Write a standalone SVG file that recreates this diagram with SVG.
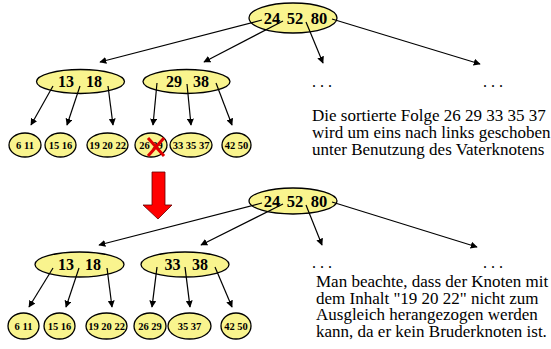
<svg xmlns="http://www.w3.org/2000/svg" width="551" height="349" viewBox="0 0 551 349">
<defs>
<marker id="ah" viewBox="0 0 10 10" refX="9" refY="5" markerWidth="7" markerHeight="7" markerUnits="userSpaceOnUse" orient="auto">
<path d="M0,0 L10,5 L0,10 z" fill="#000"/>
</marker>
<style>
.n{fill:#F9F48E;stroke:#000;stroke-width:1.3}
.big{font-family:"Liberation Serif",serif;font-weight:bold;font-size:16.5px;text-anchor:middle}
.mid{font-family:"Liberation Serif",serif;font-weight:bold;font-size:16px;text-anchor:middle}
.sm{font-family:"Liberation Serif",serif;font-weight:bold;font-size:10.5px;text-anchor:middle}
.c line{stroke:#000;stroke-width:1.2;marker-end:url(#ah)}
.t{font-family:"Liberation Serif",serif;font-size:17px}
.d{font-family:"Liberation Serif",serif;font-size:16px}
</style>
</defs>
<rect width="551" height="349" fill="#fff"/>

<!-- top tree nodes -->
<g id="root1"><ellipse class="n" cx="293" cy="18" rx="44" ry="15"/><text class="big" y="24"><tspan x="272">24</tspan><tspan x="295">52</tspan><tspan x="319">80</tspan></text></g>
<g id="n1318a"><ellipse class="n" cx="80.5" cy="81.5" rx="44" ry="12"/><text class="mid" y="87"><tspan x="66">13</tspan><tspan x="94">18</tspan></text></g>
<g id="n2938"><ellipse class="n" cx="186.5" cy="81.5" rx="43.5" ry="12"/><text class="mid" y="87"><tspan x="174">29</tspan><tspan x="201">38</tspan></text></g>
<g id="l611a"><ellipse class="n" cx="25" cy="145" rx="16" ry="12"/><text class="sm" x="25" y="149">6 11</text></g>
<g id="l1516a"><ellipse class="n" cx="60.5" cy="145" rx="15.5" ry="12"/><text class="sm" x="60.5" y="149">15 16</text></g>
<g id="l192022a"><ellipse class="n" cx="107.5" cy="145" rx="20.5" ry="12"/><text class="sm" x="107.5" y="149">19 20 22</text></g>
<g id="l2629a"><ellipse class="n" cx="151" cy="145" rx="16" ry="12"/><text class="sm" x="151" y="149">26 29</text>
<line x1="148" y1="138" x2="164" y2="156" stroke="#E00000" stroke-width="3"/><line x1="164" y1="138" x2="148" y2="156" stroke="#E00000" stroke-width="3"/></g>
<g id="l333537a"><ellipse class="n" cx="191" cy="145" rx="21" ry="12"/><text class="sm" x="191" y="149">33 35 37</text></g>
<g id="l4250a"><ellipse class="n" cx="236.5" cy="145" rx="14.5" ry="12"/><text class="sm" x="236.5" y="149">42 50</text></g>

<!-- bottom tree nodes -->
<g id="root2"><ellipse class="n" cx="293" cy="201" rx="44" ry="13"/><text class="big" y="207"><tspan x="272">24</tspan><tspan x="295">52</tspan><tspan x="319">80</tspan></text></g>
<g id="n1318b"><ellipse class="n" cx="79.5" cy="264.5" rx="44.5" ry="12.5"/><text class="mid" y="270"><tspan x="66">13</tspan><tspan x="93">18</tspan></text></g>
<g id="n3338"><ellipse class="n" cx="185" cy="264.5" rx="44" ry="12.5"/><text class="mid" y="270"><tspan x="172.5">33</tspan><tspan x="200">38</tspan></text></g>
<g id="l611b"><ellipse class="n" cx="23.5" cy="326" rx="15.5" ry="13"/><text class="sm" x="23.5" y="330">6 11</text></g>
<g id="l1516b"><ellipse class="n" cx="59.5" cy="326" rx="15.5" ry="13"/><text class="sm" x="59.5" y="330">15 16</text></g>
<g id="l192022b"><ellipse class="n" cx="106.5" cy="326" rx="20.5" ry="13"/><text class="sm" x="106.5" y="330">19 20 22</text></g>
<g id="l2629b"><ellipse class="n" cx="150" cy="326" rx="16" ry="13"/><text class="sm" x="150" y="330">26 29</text></g>
<g id="l3537b"><ellipse class="n" cx="189.5" cy="326" rx="21.5" ry="13"/><text class="sm" x="189.5" y="330">35 37</text></g>
<g id="l4250b"><ellipse class="n" cx="236" cy="326" rx="15" ry="13"/><text class="sm" x="236" y="330">42 50</text></g>

<!-- connectors -->
<g id="connectors" class="c">
<line x1="262" y1="20" x2="100" y2="62"/>
<line x1="283" y1="21" x2="204" y2="62"/>
<line x1="306" y1="22" x2="323" y2="63"/>
<line x1="332" y1="19" x2="480" y2="64"/>
<line x1="53" y1="86" x2="31" y2="125"/>
<line x1="80" y1="86" x2="67" y2="125"/>
<line x1="108" y1="86" x2="113" y2="125"/>
<line x1="157" y1="83" x2="153" y2="125"/>
<line x1="187" y1="84" x2="191" y2="125"/>
<line x1="216" y1="83" x2="232" y2="125"/>
<line x1="262" y1="203" x2="99" y2="245"/>
<line x1="283" y1="204" x2="201" y2="245"/>
<line x1="306" y1="205" x2="322" y2="245"/>
<line x1="332" y1="202" x2="477" y2="247"/>
<line x1="53" y1="268" x2="29" y2="307"/>
<line x1="79" y1="268" x2="66" y2="307"/>
<line x1="107" y1="268" x2="112" y2="307"/>
<line x1="157" y1="267" x2="152" y2="307"/>
<line x1="185" y1="267" x2="190" y2="307"/>
<line x1="215" y1="267" x2="232" y2="307"/>
</g>

<!-- red arrow -->
<path d="M152,172 L165,172 L165,205 L172,205 L158,219 L143,205 L152,205 Z" fill="#FF0000" stroke="#600" stroke-width="0.8"/>

<!-- texts -->
<text class="d" x="312" y="87">. . .</text>
<text class="d" x="483" y="87">. . .</text>
<text class="t" x="312" y="121">Die sortierte Folge 26 29 33 35 37</text>
<text class="t" x="312" y="138">wird um eins nach links geschoben</text>
<text class="t" x="312" y="155">unter Benutzung des Vaterknotens</text>
<text class="d" x="312" y="268">. . .</text>
<text class="d" x="483" y="268">. . .</text>
<text class="t" x="316" y="287">Man beachte, dass der Knoten mit</text>
<text class="t" x="316" y="304">dem Inhalt "19 20 22" nicht zum</text>
<text class="t" x="316" y="320">Ausgleich herangezogen werden</text>
<text class="t" x="316" y="337">kann, da er kein Bruderknoten ist.</text>
</svg>
